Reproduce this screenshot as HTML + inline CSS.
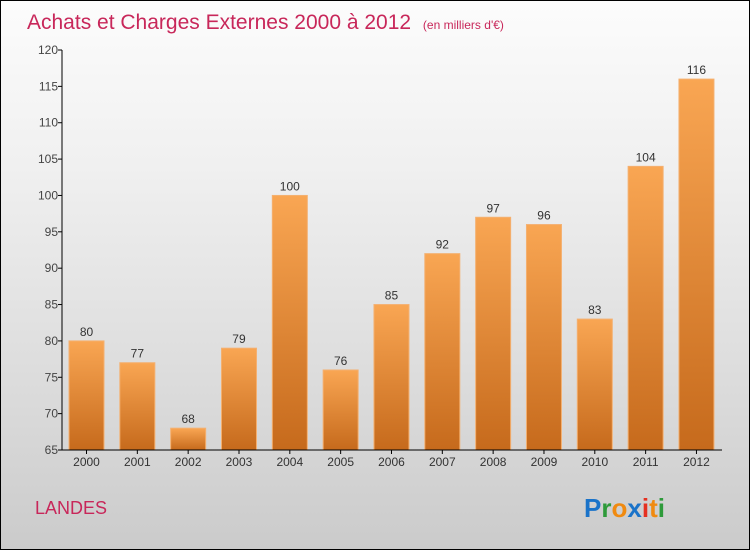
<!DOCTYPE html>
<html><head><meta charset="utf-8"><style>
body{margin:0}
#c{position:relative;width:748px;height:548px;border:1px solid #000;background:linear-gradient(#fcfcfc,#f0f0f0 30%,#d9d9d9 75%,#cbcbcb);font-family:"Liberation Sans",sans-serif;overflow:hidden}
</style></head><body>
<div id="c">
<svg id="s" width="748" height="548" style="position:absolute;left:0;top:0">
<defs><linearGradient id="g" x1="0" y1="0" x2="0" y2="1"><stop offset="0" stop-color="#f9a653"/><stop offset="1" stop-color="#c66a1c"/></linearGradient></defs>
<text x="26" y="28" font-size="21" fill="#c8275a">Achats et Charges Externes 2000 à 2012 <tspan font-size="12" dx="6">(en milliers d'€)</tspan></text>
<text x="34" y="513" font-size="18" fill="#c8275a">LANDES</text>
<g font-size="26" font-weight="bold" font-family="Liberation Sans, sans-serif">
<text x="583" y="516"><tspan fill="#1a73c9">P</tspan><tspan fill="#2e9a3a">r</tspan><tspan fill="#f08a10">o</tspan><tspan fill="#1a73c9">x</tspan><tspan fill="#e53020">i</tspan><tspan fill="#f08a10">t</tspan><tspan fill="#2e9a3a">i</tspan></text></g>
<g id="plot"></g>
</svg>
</div>
<script>
const years=["2000","2001","2002","2003","2004","2005","2006","2007","2008","2009","2010","2011","2012"];
const values=[80,77,68,79,100,76,85,92,97,96,83,104,116];
const yTicks=[65,70,75,80,85,90,95,100,105,110,115,120];
const ns="http://www.w3.org/2000/svg";
const g=document.getElementById('plot');
const y0=449,y1=49,vmin=65,vmax=120,xl=61,xr=721;
const y=v=>y0-(v-vmin)/(vmax-vmin)*(y0-y1);
const xc=i=>xl+7+17.5+i*50.83;
function el(t,a){const e=document.createElementNS(ns,t);for(const k in a)e.setAttribute(k,a[k]);g.appendChild(e);return e;}
values.forEach((v,i)=>{
 const r=el('rect',{x:xc(i)-17.5,y:y(v),width:35,height:y0-y(v),fill:'url(#g)',stroke:'#f4b070','stroke-width':1});
 
 
 const t=el('text',{x:xc(i),y:y(v)-5,'text-anchor':'middle','font-size':12,fill:'#333'});t.textContent=v;
 
 
 const xt=el('text',{x:xc(i),y:y0+16,'text-anchor':'middle','font-size':12,fill:'#333'});xt.textContent=years[i];
 
 
 el('line',{x1:xc(i),x2:xc(i),y1:y0,y2:y0+4,stroke:'#000'});
});
yTicks.forEach(v=>{
 el('line',{x1:xl-4,x2:xl,y1:y(v),y2:y(v),stroke:'#000'});
 const t=el('text',{x:xl-4,y:y(v)+4,'text-anchor':'end','font-size':12,fill:'#444'});t.textContent=v;
 
 
});
const ya=el('line',{x1:xl,x2:xl,y1:y1,y2:y0,stroke:'#000'});


const xa=el('line',{x1:xl,x2:xr,y1:y0,y2:y0,stroke:'#000'});


</script>
</body></html>
